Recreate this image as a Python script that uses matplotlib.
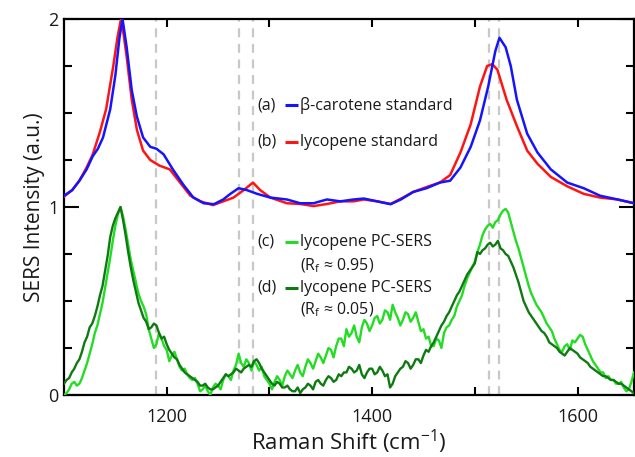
import numpy as np
import matplotlib
matplotlib.use("Agg")
import matplotlib.pyplot as plt
from matplotlib.ticker import MultipleLocator, FixedLocator, FixedFormatter

plt.rcParams['font.family'] = ['Open Sans', 'DejaVu Sans']
plt.rcParams['mathtext.default'] = 'regular'

# ---------------- data ----------------
# (a) beta-carotene standard
shift_a = [1100, 1108, 1115, 1122, 1128, 1133, 1138, 1145, 1150, 1154, 1157, 1161, 1166, 1171,
           1177, 1184, 1190, 1197, 1206, 1216, 1226, 1236, 1246, 1255, 1262, 1270, 1278, 1288,
           1301, 1317, 1330, 1343, 1356, 1369, 1382, 1392, 1405, 1418, 1428, 1440, 1453, 1466,
           1476, 1486, 1496, 1505, 1513, 1520, 1524, 1530, 1535, 1541, 1551, 1561, 1574, 1590,
           1606, 1622, 1639, 1655]
int_a = [1.06, 1.09, 1.14, 1.20, 1.27, 1.31, 1.37, 1.52, 1.70, 1.90, 2.00, 1.85, 1.62, 1.48,
         1.37, 1.32, 1.31, 1.28, 1.20, 1.12, 1.05, 1.02, 1.015, 1.04, 1.07, 1.10, 1.09, 1.07,
         1.05, 1.04, 1.02, 1.02, 1.04, 1.03, 1.04, 1.045, 1.03, 1.015, 1.04, 1.08, 1.10, 1.13,
         1.14, 1.21, 1.32, 1.46, 1.64, 1.83, 1.90, 1.85, 1.75, 1.57, 1.39, 1.29, 1.20, 1.13,
         1.10, 1.06, 1.04, 1.02]

# (b) lycopene standard
shift_b = [1100, 1108, 1115, 1122, 1128, 1135, 1141, 1148, 1152, 1155.5, 1158, 1161, 1166, 1171,
           1177, 1184, 1193, 1203, 1213, 1223, 1233, 1245, 1255, 1265, 1275, 1284, 1291, 1301,
           1317, 1330, 1343, 1356, 1369, 1382, 1392, 1405, 1418, 1430, 1440, 1455, 1466, 1476,
           1486, 1496, 1505, 1512, 1517, 1522, 1531, 1541, 1551, 1561, 1574, 1590, 1606, 1622,
           1639, 1655]
int_b = [1.055, 1.09, 1.14, 1.21, 1.28, 1.40, 1.52, 1.75, 1.90, 2.00, 1.92, 1.80, 1.57, 1.41,
         1.30, 1.25, 1.22, 1.20, 1.13, 1.06, 1.03, 1.01, 1.03, 1.05, 1.09, 1.13, 1.09, 1.05,
         1.02, 1.016, 1.005, 1.016, 1.03, 1.03, 1.04, 1.03, 1.016, 1.05, 1.08, 1.11, 1.13, 1.17,
         1.29, 1.44, 1.64, 1.75, 1.76, 1.73, 1.57, 1.43, 1.30, 1.23, 1.16, 1.11, 1.07, 1.05,
         1.04, 1.02]

# PC-SERS spectra, sampled every 2.5 cm-1 from 1100 to 1655
shift_cd = np.arange(1100, 1655.1, 2.5)
# (c) lycopene PC-SERS (Rf ~ 0.95)
int_c = [0.00, 0.01, 0.03, 0.06, 0.07, 0.05, 0.06, 0.09, 0.13, 0.17,
         0.22, 0.27, 0.33, 0.37, 0.43, 0.49, 0.57, 0.65, 0.73, 0.82,
         0.90, 0.96, 1.00, 0.95, 0.88, 0.80, 0.72, 0.66, 0.60, 0.54,
         0.50, 0.47, 0.43, 0.35, 0.30, 0.25, 0.27, 0.33, 0.30, 0.26,
         0.24, 0.18, 0.21, 0.23, 0.19, 0.15, 0.13, 0.14, 0.11, 0.09,
         0.08, 0.09, 0.06, 0.02, 0.03, 0.05, 0.02, 0.00, 0.04, 0.06,
         0.05, 0.03, 0.08, 0.11, 0.10, 0.08, 0.13, 0.16, 0.22, 0.17,
         0.15, 0.19, 0.17, 0.13, 0.18, 0.16, 0.13, 0.15, 0.10, 0.08,
         0.06, 0.03, 0.07, 0.10, 0.08, 0.05, 0.10, 0.13, 0.11, 0.09,
         0.13, 0.16, 0.12, 0.10, 0.15, 0.19, 0.17, 0.14, 0.18, 0.22,
         0.20, 0.17, 0.21, 0.25, 0.24, 0.20, 0.26, 0.30, 0.30, 0.26,
         0.35, 0.31, 0.33, 0.37, 0.31, 0.28, 0.36, 0.40, 0.38, 0.34,
         0.37, 0.41, 0.42, 0.38, 0.40, 0.45, 0.44, 0.40, 0.48, 0.44,
         0.41, 0.37, 0.40, 0.44, 0.43, 0.39, 0.41, 0.44, 0.39, 0.34,
         0.35, 0.30, 0.31, 0.26, 0.26, 0.30, 0.29, 0.25, 0.33, 0.36,
         0.37, 0.40, 0.42, 0.47, 0.50, 0.53, 0.58, 0.62, 0.65, 0.68,
         0.71, 0.76, 0.80, 0.85, 0.88, 0.90, 0.91, 0.89, 0.92, 0.93,
         0.96, 0.98, 0.99, 0.97, 0.92, 0.87, 0.82, 0.78, 0.73, 0.68,
         0.63, 0.58, 0.54, 0.51, 0.48, 0.46, 0.44, 0.41, 0.38, 0.36,
         0.34, 0.30, 0.27, 0.24, 0.23, 0.26, 0.27, 0.24, 0.29, 0.28,
         0.30, 0.32, 0.31, 0.27, 0.24, 0.21, 0.18, 0.16, 0.14, 0.12,
         0.12, 0.09, 0.10, 0.08, 0.08, 0.06, 0.06, 0.07, 0.04, 0.02,
         0.03, 0.07, 0.12]
# (d) lycopene PC-SERS (Rf ~ 0.05)
int_d = [0.06, 0.08, 0.09, 0.12, 0.14, 0.17, 0.19, 0.23, 0.28, 0.31,
         0.36, 0.38, 0.42, 0.47, 0.53, 0.58, 0.66, 0.74, 0.84, 0.90,
         0.94, 0.97, 1.00, 0.93, 0.85, 0.76, 0.68, 0.61, 0.55, 0.49,
         0.45, 0.41, 0.39, 0.35, 0.36, 0.38, 0.37, 0.33, 0.30, 0.31,
         0.27, 0.24, 0.22, 0.20, 0.19, 0.16, 0.14, 0.12, 0.11, 0.10,
         0.09, 0.08, 0.07, 0.05, 0.05, 0.06, 0.04, 0.03, 0.03, 0.04,
         0.05, 0.07, 0.09, 0.11, 0.10, 0.11, 0.12, 0.14, 0.13, 0.12,
         0.14, 0.15, 0.16, 0.15, 0.18, 0.19, 0.17, 0.14, 0.12, 0.10,
         0.08, 0.06, 0.05, 0.07, 0.06, 0.04, 0.04, 0.05, 0.03, 0.02,
         0.02, 0.04, 0.01, 0.03, 0.04, 0.06, 0.05, 0.03, 0.07, 0.08,
         0.06, 0.05, 0.08, 0.10, 0.09, 0.07, 0.08, 0.11, 0.10, 0.12,
         0.12, 0.15, 0.14, 0.12, 0.13, 0.16, 0.11, 0.09, 0.12, 0.14,
         0.14, 0.11, 0.12, 0.15, 0.13, 0.10, 0.11, 0.04, 0.06, 0.10,
         0.12, 0.14, 0.15, 0.18, 0.17, 0.14, 0.16, 0.19, 0.19, 0.17,
         0.21, 0.24, 0.23, 0.26, 0.28, 0.31, 0.34, 0.37, 0.39, 0.42,
         0.44, 0.47, 0.50, 0.53, 0.55, 0.58, 0.61, 0.64, 0.66, 0.68,
         0.70, 0.76, 0.75, 0.77, 0.78, 0.80, 0.81, 0.79, 0.80, 0.82,
         0.78, 0.77, 0.75, 0.74, 0.71, 0.68, 0.64, 0.60, 0.55, 0.50,
         0.47, 0.44, 0.42, 0.40, 0.38, 0.36, 0.34, 0.33, 0.31, 0.28,
         0.27, 0.26, 0.25, 0.23, 0.22, 0.21, 0.23, 0.25, 0.24, 0.23,
         0.22, 0.20, 0.19, 0.18, 0.17, 0.15, 0.14, 0.13, 0.12, 0.11,
         0.10, 0.10, 0.09, 0.08, 0.08, 0.07, 0.06, 0.06, 0.05, 0.04,
         0.03, 0.02, 0.01]

ref_lines = [1190, 1270, 1284, 1514, 1524]

labels = ["β-carotene standard", "lycopene standard",
          "lycopene PC-SERS", "lycopene PC-SERS"]
tags = ["(a)", "(b)", "(c)", "(d)"]
rf_labels = ["(R$_{f}$ ≈ 0.95)", "(R$_{f}$ ≈ 0.05)"]
colors = ["#1414ff", "#ff1414", "#22dd22", "#0f7a12"]

# ---------------- figure ----------------
fig = plt.figure(figsize=(6.35, 4.57), dpi=100)
ax = fig.add_axes([64/635, 1-395/457, 570/635, 376/457])

for xv in ref_lines:
    ax.axvline(xv, color="#c8c8c8", lw=1.6, dashes=(4, 3), zorder=1)

ax.plot(shift_b, int_b, color=colors[1], lw=1.8, zorder=3)
ax.plot(shift_a, int_a, color=colors[0], lw=1.8, zorder=4)
ax.plot(shift_cd, int_c, color=colors[2], lw=1.7, zorder=3)
ax.plot(shift_cd, int_d, color=colors[3], lw=1.7, zorder=4)

ax.set_xlim(1100, 1655)
ax.set_ylim(0, 2)

# legend drawn by hand (tag, short line, label)
fs = 11.5
txtc = '#1a1a1a'
tag_x, line_x0, line_x1, text_x = 0.340, 0.387, 0.411, 0.414
rows = [0.771, 0.673, 0.407, 0.285]
for tag, lab, col, yy in zip(tags, labels, colors, rows):
    ax.text(tag_x, yy, tag, transform=ax.transAxes, fontsize=fs, va='center', ha='left', color=txtc)
    ax.plot([line_x0, line_x1], [yy, yy], transform=ax.transAxes, color=col, lw=2.2,
            solid_capstyle='butt')
    ax.text(text_x, yy, lab, transform=ax.transAxes, fontsize=fs, va='center', ha='left', color=txtc)
for lab, yy in zip(rf_labels, [0.343, 0.226]):
    ax.text(text_x, yy, lab, transform=ax.transAxes, fontsize=fs, va='center', ha='left', color=txtc)

# ticks
ax.xaxis.set_major_locator(FixedLocator([1200, 1400, 1600]))
ax.xaxis.set_minor_locator(FixedLocator([1300, 1500]))
ax.yaxis.set_major_locator(FixedLocator([0, 1, 2]))
ax.yaxis.set_major_formatter(FixedFormatter(["0", "1", "2"]))
ax.yaxis.set_minor_locator(MultipleLocator(0.25))
ax.tick_params(which='both', direction='in', top=True, right=True, width=1.5, colors='black',
               labelsize=13, labelcolor=txtc)
ax.tick_params(axis='x', which='both', length=6, pad=9)
ax.tick_params(axis='y', which='major', length=11, pad=4)
ax.tick_params(axis='y', which='minor', length=6)
for s in ax.spines.values():
    s.set_linewidth(1.6)

ax.set_xlabel("Raman Shift (cm$^{-1}$)", fontsize=16, color=txtc, labelpad=2)
ax.set_ylabel("SERS Intensity (a.u.)", fontsize=15, color=txtc, labelpad=2)

fig.savefig("out.png", dpi=100)
